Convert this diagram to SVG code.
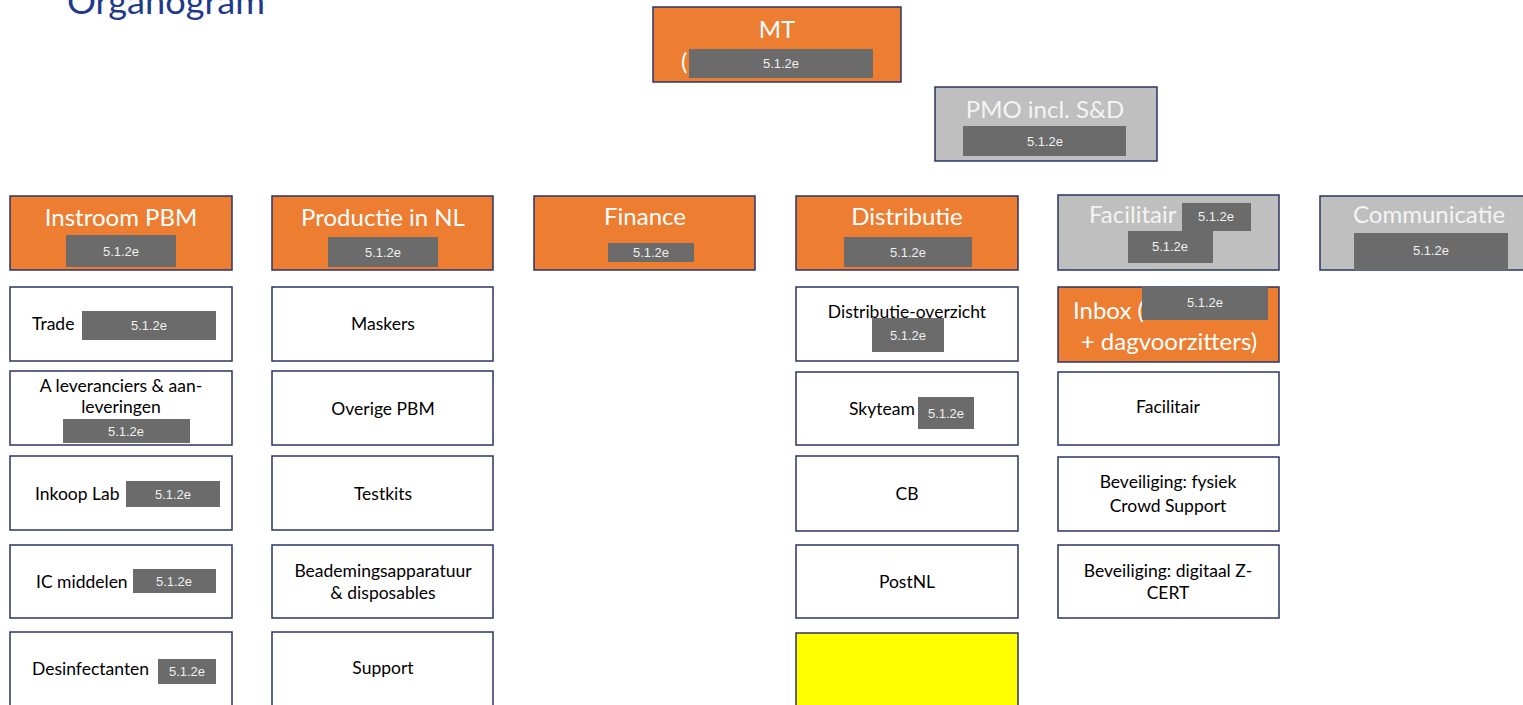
<svg xmlns="http://www.w3.org/2000/svg" width="1523" height="705" viewBox="0 0 1523 705">
<style>
.box{stroke:#2B3467;stroke-width:1.5}
.or{fill:#ED7D31}
.gr{fill:#BFBFBF}
.wh{fill:#FFFFFF}
.ye{fill:#FFFF00}
.red{fill:#6B6B6B}
.rt{font-family:"Liberation Sans",Arial,sans-serif;font-size:13px;fill:#F0F0F0;text-anchor:middle}
.ht{font-family:Lato,"Open Sans",sans-serif;font-size:24px;fill:#FFFFFF}
.hg{font-family:Lato,"Open Sans",sans-serif;font-size:24px;fill:#F4F4F4}
.dt{font-family:Lato,"Open Sans",sans-serif;font-size:17.5px;fill:#000000}
.c{text-anchor:middle}
.title{font-family:Lato,"Open Sans",sans-serif;font-size:34px;fill:#1F3A8A}
</style>
<rect width="1523" height="705" fill="#FFFFFF"/>
<text class="title" x="67" y="14" textLength="198" lengthAdjust="spacingAndGlyphs">Organogram</text>
<g id="connectors"/>

<g id="mt">
<rect class="box or" x="653" y="7" width="248" height="75"/>
<text class="ht c" x="777" y="38">MT</text>
<text class="ht" x="681" y="70">(</text>
<rect class="red" x="689" y="49" width="184" height="29"/>
<text class="rt" x="781" y="68">5.1.2e</text>
</g>

<g id="pmo">
<rect class="box gr" x="935" y="87" width="222" height="74"/>
<text class="hg c" x="1045" y="118">PMO incl. S&amp;D</text>
<rect class="red" x="963" y="126" width="163" height="30"/>
<text class="rt" x="1045" y="146">5.1.2e</text>
</g>

<g id="instroom">
<rect class="box or" x="10" y="196" width="222" height="74"/>
<text class="ht c" x="121" y="226">Instroom PBM</text>
<rect class="red" x="66" y="235" width="110" height="32"/>
<text class="rt" x="121" y="256">5.1.2e</text>
</g>

<g id="productie">
<rect class="box or" x="272" y="196" width="221" height="74"/>
<text class="ht c" x="383" y="226">Productie in NL</text>
<rect class="red" x="328" y="237" width="110" height="30"/>
<text class="rt" x="383" y="257">5.1.2e</text>
</g>

<g id="finance">
<rect class="box or" x="534" y="196" width="221" height="74"/>
<text class="ht c" x="645" y="225">Finance</text>
<rect class="red" x="608" y="243" width="86" height="19"/>
<text class="rt" x="651" y="257">5.1.2e</text>
</g>

<g id="distributie">
<rect class="box or" x="796" y="196" width="222" height="74"/>
<text class="ht c" x="907" y="225">Distributie</text>
<rect class="red" x="844" y="237" width="128" height="30"/>
<text class="rt" x="908" y="257">5.1.2e</text>
</g>

<g id="facilitair-head">
<rect class="box gr" x="1058" y="195" width="221" height="75"/>
<text class="hg" x="1089" y="223">Facilitair</text>
<rect class="red" x="1182" y="203" width="69" height="28"/>
<text class="rt" x="1216" y="221">5.1.2e</text>
<rect class="red" x="1128" y="231" width="85" height="32"/>
<text class="rt" x="1170" y="251">5.1.2e</text>
</g>

<g id="communicatie">
<rect class="box gr" x="1320" y="196" width="230" height="74"/>
<text class="hg" x="1353" y="223">Communicatie</text>
<rect class="red" x="1354" y="233" width="154" height="37"/>
<text class="rt" x="1431" y="255">5.1.2e</text>
</g>

<!-- Column 1 -->
<g id="trade">
<rect class="box wh" x="10" y="287" width="222" height="74"/>
<text class="dt" x="32" y="330">Trade</text>
<rect class="red" x="82" y="311" width="134" height="29"/>
<text class="rt" x="149" y="330">5.1.2e</text>
</g>
<g id="a-leveranciers">
<rect class="box wh" x="10" y="371" width="222" height="74"/>
<text class="dt c" x="121" y="392">A leveranciers &amp; aan-</text>
<text class="dt c" x="121" y="413">leveringen</text>
<rect class="red" x="63" y="419" width="127" height="24"/>
<text class="rt" x="126" y="436">5.1.2e</text>
</g>
<g id="inkoop-lab">
<rect class="box wh" x="10" y="456" width="222" height="74"/>
<text class="dt" x="35" y="500">Inkoop Lab</text>
<rect class="red" x="126" y="481" width="94" height="26"/>
<text class="rt" x="173" y="499">5.1.2e</text>
</g>
<g id="ic-middelen">
<rect class="box wh" x="10" y="545" width="222" height="73"/>
<text class="dt" x="36" y="588">IC middelen</text>
<rect class="red" x="133" y="569" width="83" height="24"/>
<text class="rt" x="174" y="586">5.1.2e</text>
</g>
<g id="desinfectanten">
<rect class="box wh" x="10" y="632" width="222" height="80"/>
<text class="dt" x="32" y="675">Desinfectanten</text>
<rect class="red" x="158" y="659" width="58" height="25"/>
<text class="rt" x="187" y="676">5.1.2e</text>
</g>

<!-- Column 2 -->
<g id="maskers">
<rect class="box wh" x="272" y="287" width="221" height="74"/>
<text class="dt c" x="383" y="330">Maskers</text>
</g>
<g id="overige-pbm">
<rect class="box wh" x="272" y="371" width="221" height="74"/>
<text class="dt c" x="383" y="415">Overige PBM</text>
</g>
<g id="testkits">
<rect class="box wh" x="272" y="456" width="221" height="74"/>
<text class="dt c" x="383" y="500">Testkits</text>
</g>
<g id="beademing">
<rect class="box wh" x="272" y="545" width="221" height="73"/>
<text class="dt c" x="383" y="577">Beademingsapparatuur</text>
<text class="dt c" x="383" y="599">&amp; disposables</text>
</g>
<g id="support">
<rect class="box wh" x="272" y="632" width="221" height="80"/>
<text class="dt c" x="383" y="674">Support</text>
</g>

<!-- Column 4 -->
<g id="distributie-overzicht">
<rect class="box wh" x="796" y="287" width="222" height="74"/>
<text class="dt c" x="907" y="318">Distributie-overzicht</text>
<rect class="red" x="872" y="318" width="72" height="34"/>
<text class="rt" x="908" y="340">5.1.2e</text>
</g>
<g id="skyteam">
<rect class="box wh" x="796" y="372" width="222" height="73"/>
<text class="dt" x="849" y="415">Skyteam</text>
<rect class="red" x="918" y="397" width="56" height="32"/>
<text class="rt" x="946" y="418">5.1.2e</text>
</g>
<g id="cb">
<rect class="box wh" x="796" y="456" width="222" height="75"/>
<text class="dt c" x="907" y="500">CB</text>
</g>
<g id="postnl">
<rect class="box wh" x="796" y="545" width="222" height="73"/>
<text class="dt c" x="907" y="588">PostNL</text>
</g>
<g id="yellow">
<rect class="box ye" x="796" y="633" width="222" height="80"/>
</g>

<!-- Column 5 -->
<g id="inbox">
<rect class="box or" x="1058" y="287" width="221" height="75"/>
<text class="ht" x="1073" y="319">Inbox (</text>
<rect class="red" x="1142" y="287" width="126" height="33"/>
<text class="rt" x="1205" y="307">5.1.2e</text>
<text class="ht c" x="1169" y="350">+ dagvoorzitters)</text>
</g>
<g id="facilitair">
<rect class="box wh" x="1058" y="372" width="221" height="73"/>
<text class="dt c" x="1168" y="413">Facilitair</text>
</g>
<g id="beveiliging-fysiek">
<rect class="box wh" x="1058" y="457" width="221" height="74"/>
<text class="dt c" x="1168" y="488">Beveiliging: fysiek</text>
<text class="dt c" x="1168" y="512">Crowd Support</text>
</g>
<g id="beveiliging-digitaal">
<rect class="box wh" x="1058" y="545" width="221" height="73"/>
<text class="dt c" x="1168" y="577">Beveiliging: digitaal Z-</text>
<text class="dt c" x="1168" y="599">CERT</text>
</g>
</svg>
